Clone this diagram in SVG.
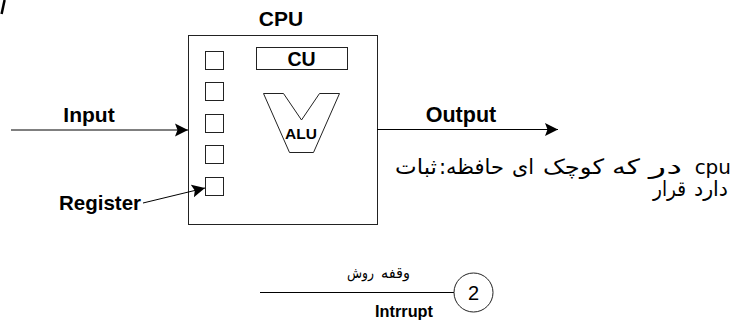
<svg xmlns="http://www.w3.org/2000/svg" width="733" height="324" viewBox="0 0 733 324">
  <style>
    .lbl { font-family: "Liberation Sans", Arial, sans-serif; font-weight: bold; fill: #000; }
    .num { font-family: "Liberation Sans", Arial, sans-serif; font-weight: normal; fill: #000; }
    .fa { font-family: "DejaVu Sans", sans-serif; fill: #000; }
    .note { font-size: 21px; }
    .small { font-size: 15px; }
    .shape { fill: #fff; stroke: #222; stroke-width: 1; }
    .wire { fill: none; stroke: #000; stroke-width: 1; }
  </style>
  <defs>
    <marker id="arrow" markerUnits="userSpaceOnUse" markerWidth="14" markerHeight="14" refX="13" refY="7" orient="auto">
      <path d="M0,0.5 L13,7 L0,13.5 L2.5,7 Z" fill="#000"/>
    </marker>
  </defs>

  <rect width="733" height="324" fill="#fff"/>

  <!-- stray mark at top-left corner -->
  <path d="M4.6,0 L1.6,14" stroke="#000" stroke-width="2.5" fill="none"/>

  <!-- CPU block -->
  <g id="cpu">
    <text class="lbl" x="281" y="26" font-size="21" text-anchor="middle">CPU</text>
    <rect class="shape" x="188.5" y="35.5" width="189" height="189"/>
  </g>

  <!-- control unit -->
  <g id="cu">
    <rect class="shape" x="256.5" y="47.5" width="91" height="22"/>
    <text class="lbl" x="301.5" y="66" font-size="19.5" text-anchor="middle">CU</text>
  </g>

  <!-- arithmetic logic unit -->
  <g id="alu">
    <path class="shape" d="M263.5,93.5 L283.5,93.5 L301.5,120 L319.5,93.5 L339.5,93.5 L313.5,152.5 L289.5,152.5 Z"/>
    <text class="lbl" x="301" y="139" font-size="15.5" text-anchor="middle">ALU</text>
  </g>

  <!-- registers -->
  <g id="registers">
    <rect class="shape" x="205.5" y="51.5" width="18" height="18"/>
    <rect class="shape" x="205.5" y="82.5" width="18" height="18"/>
    <rect class="shape" x="205.5" y="114.5" width="18" height="18"/>
    <rect class="shape" x="205.5" y="145.5" width="18" height="18"/>
    <rect class="shape" x="205.5" y="177.5" width="18" height="18"/>
  </g>

  <!-- connectors -->
  <g id="connectors">
    <line class="wire" x1="11" y1="130" x2="188" y2="130" marker-end="url(#arrow)"/>
    <line class="wire" x1="377" y1="129.5" x2="558" y2="129.5" marker-end="url(#arrow)"/>
    <line class="wire" x1="143" y1="203" x2="205" y2="188" marker-end="url(#arrow)"/>
    <line class="wire" x1="260" y1="292.5" x2="454" y2="292.5"/>
  </g>

  <!-- labels -->
  <g id="input-label">
    <text class="lbl" x="89" y="122" font-size="21" text-anchor="middle">Input</text>
  </g>
  <g id="output-label">
    <text class="lbl" x="461" y="122" font-size="21.5" text-anchor="middle">Output</text>
  </g>
  <g id="register-label">
    <text class="lbl" x="59" y="210" font-size="20.5">Register</text>
  </g>

  <!-- note about registers: every word is its own text, set left to right in fixed boxes -->
  <g id="register-note">
    <text class="fa note" x="395" y="174" textLength="42" lengthAdjust="spacingAndGlyphs">ثبات</text>
    <text class="fa note" x="439" y="174">:</text>
    <text class="fa note" x="446" y="174" textLength="58" lengthAdjust="spacingAndGlyphs">حافظه</text>
    <text class="fa note" x="512" y="174" textLength="22" lengthAdjust="spacingAndGlyphs">ای</text>
    <text class="fa note" x="543" y="174" textLength="61" lengthAdjust="spacingAndGlyphs">کوچک</text>
    <text class="fa note" x="612" y="174" textLength="28" lengthAdjust="spacingAndGlyphs">که</text>
    <text class="fa note" x="649" y="174" textLength="33" lengthAdjust="spacingAndGlyphs">در</text>
    <text class="fa" x="731" y="174" font-size="20" text-anchor="end">cpu</text>
    <text class="fa note" x="653" y="196" textLength="33" lengthAdjust="spacingAndGlyphs">قرار</text>
    <text class="fa note" x="694" y="196" textLength="34" lengthAdjust="spacingAndGlyphs">دارد</text>
  </g>

  <!-- interrupt method -->
  <g id="interrupt">
    <text class="fa small" x="347" y="278" textLength="27" lengthAdjust="spacingAndGlyphs">روش</text>
    <text class="fa small" x="381" y="278" textLength="29" lengthAdjust="spacingAndGlyphs">وقفه</text>
    <text class="lbl" x="404" y="317" font-size="16.3" text-anchor="middle">Intrrupt</text>
  </g>
  <g id="step-2">
    <circle class="shape" cx="473.5" cy="292.5" r="19.5"/>
    <text class="num" x="473.5" y="300" font-size="20" text-anchor="middle">2</text>
  </g>
</svg>
